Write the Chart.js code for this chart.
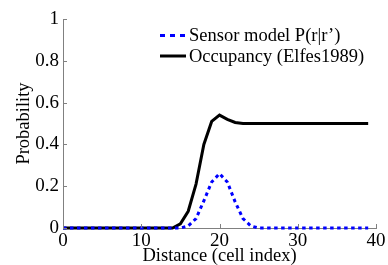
<!DOCTYPE html>
<html>
<head>
<meta charset="utf-8">
<script src="https://cdn.jsdelivr.net/npm/chart.js@4"></script>
<style>
  html, body { margin: 0; padding: 0; background: #fff; }
  #wrap { width: 388px; height: 265px; }
</style>
</head>
<body>
<div id="wrap"><canvas id="chart" width="388" height="265"></canvas></div>
<script>
const distance = [];
for (let i = 0; i < 40; i++) distance.push(i);

const sensorModel = [0, 0, 0, 0, 0, 0, 0, 0, 0, 0,
                     0, 0, 0, 0, 0, 0, 0.01, 0.045, 0.13, 0.22,
                     0.26, 0.22, 0.125, 0.045, 0.01, 0, 0, 0, 0, 0,
                     0, 0, 0, 0, 0, 0, 0, 0, 0, 0];
const occupancy = [0, 0, 0, 0, 0, 0, 0, 0, 0, 0,
                   0, 0, 0, 0, 0, 0.02, 0.08, 0.21, 0.4, 0.51,
                   0.54, 0.52, 0.505, 0.5, 0.5, 0.5, 0.5, 0.5, 0.5, 0.5,
                   0.5, 0.5, 0.5, 0.5, 0.5, 0.5, 0.5, 0.5, 0.5, 0.5];

const xTicks = [0, 10, 20, 30, 40];
const yTicks = [0, 0.2, 0.4, 0.6, 0.8, 1];
const seriesNames = ['Sensor model P(r|r\u2019)', 'Occupancy (Elfes1989)'];

const FONT = 'Liberation Serif';

// inward tick marks + legend drawn inside the plot
const extras = {
    id: 'extras',
    afterDraw(chart) {
        const ctx = chart.ctx;
        const xs = chart.scales.x, ys = chart.scales.y;
        const area = chart.chartArea;
        ctx.save();
        ctx.strokeStyle = '#808080';
        ctx.lineWidth = 1;
        ctx.beginPath();
        xTicks.forEach(v => {
            const px = Math.round(xs.getPixelForValue(v)) + 0.5;
            ctx.moveTo(px, area.bottom);
            ctx.lineTo(px, area.bottom - 4);
        });
        yTicks.forEach(v => {
            const py = Math.round(ys.getPixelForValue(v)) + 0.5;
            ctx.moveTo(area.left, py);
            ctx.lineTo(area.left + 4, py);
        });
        ctx.stroke();

        // legend
        const rows = [35.5, 56];
        chart.data.datasets.forEach((ds, i) => {
            ctx.strokeStyle = ds.borderColor;
            ctx.lineWidth = ds.borderWidth;
            ctx.setLineDash(ds.borderDash ? [5, 5] : []);
            ctx.beginPath();
            ctx.moveTo(160, rows[i]);
            ctx.lineTo(186, rows[i]);
            ctx.stroke();
            ctx.setLineDash([]);
            ctx.fillStyle = '#000';
            ctx.font = '18.5px "' + FONT + '"';
            ctx.textBaseline = 'middle';
            ctx.fillText(ds.label, 189, rows[i] + 1);
        });
        ctx.restore();
    }
};

new Chart(document.getElementById('chart'), {
    type: 'line',
    data: {
        datasets: [
            {
                label: seriesNames[0],
                data: distance.map((d, i) => ({ x: d, y: sensorModel[i] })),
                borderColor: '#0000ff',
                borderWidth: 3,
                borderDash: [3.5, 3.5],
                pointRadius: 0,
                fill: false,
                clip: false
            },
            {
                label: seriesNames[1],
                data: distance.map((d, i) => ({ x: d, y: occupancy[i] })),
                borderColor: '#000000',
                borderWidth: 3,
                pointRadius: 0,
                fill: false,
                clip: false
            }
        ]
    },
    options: {
        responsive: false,
        animation: false,
        layout: { padding: { top: 19, right: 12, left: 0, bottom: 0 } },
        plugins: { legend: { display: false }, tooltip: { enabled: false } },
        scales: {
            x: {
                type: 'linear',
                min: 0, max: 40,
                afterFit(s) { s.height = 37; },
                afterBuildTicks(s) { s.ticks = xTicks.map(v => ({ value: v })); },
                grid: { display: false, drawTicks: false },
                border: { display: true, color: '#808080', width: 1 },
                ticks: { color: '#000', padding: 2, maxRotation: 0,
                         font: { family: FONT, size: 19 } },
                title: { display: true, text: 'Distance (cell index)', color: '#000',
                         padding: 0, font: { family: FONT, size: 18.5, lineHeight: 1 } }
            },
            y: {
                type: 'linear',
                min: 0, max: 1,
                afterFit(s) { s.width = 63; },
                afterBuildTicks(s) { s.ticks = yTicks.map(v => ({ value: v })); },
                grid: { display: false, drawTicks: false },
                border: { display: true, color: '#808080', width: 1 },
                ticks: { color: '#000', padding: 4,
                         font: { family: FONT, size: 19 },
                         callback: v => String(v) },
                title: { display: true, text: 'Probability', color: '#000',
                         padding: { top: 13, bottom: 0 },
                         font: { family: FONT, size: 18.5, lineHeight: 1.2 } }
            }
        }
    },
    plugins: [extras]
});
</script>
</body>
</html>
